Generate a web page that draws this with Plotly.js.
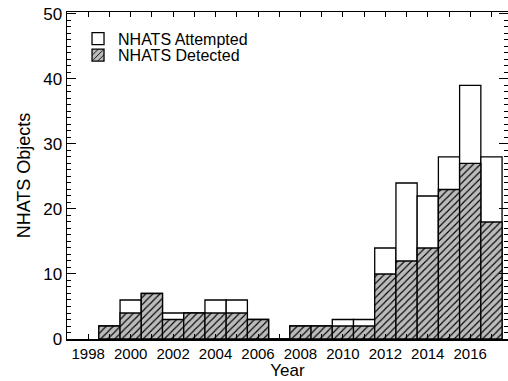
<!DOCTYPE html>
<html>
<head>
<meta charset="utf-8">
<script src="https://cdn.plot.ly/plotly-3.0.1.min.js"></script>
<style>html,body{margin:0;padding:0;background:#fff;}#chart{width:508px;height:381px;}</style>
</head>
<body>
<div id="chart"></div>
<script>
const years = [1999,2000,2001,2002,2003,2004,2005,2006,2007,2008,2009,2010,2011,2012,2013,2014,2015,2016,2017];
const attempted = [2,6,7,4,4,6,6,3,0,2,2,3,3,14,24,22,28,39,28];
const detected  = [2,4,7,3,4,4,4,3,0,2,2,2,2,10,12,14,23,27,18];
const tickYears = [1998,1999,2000,2001,2002,2003,2004,2005,2006,2007,2008,2009,2010,2011,2012,2013,2014,2015,2016,2017];
const tickLabels = ['1998','','2000','','2002','','2004','','2006','','2008','','2010','','2012','','2014','','2016',''];

const FONT = 'Liberation Sans, Arial, Helvetica, sans-serif';

const traces = [
  {
    type: 'bar', x: years, y: attempted, name: 'NHATS Attempted', width: 1,
    marker: {color: '#ffffff', line: {color: '#000000', width: 1.3}},
    legend: 'legend'
  },
  {
    type: 'bar', x: years, y: detected, name: 'NHATS Detected', width: 1,
    marker: {color: '#bbbbbb', line: {color: '#000000', width: 1.3},
      pattern: {shape: '/', fgcolor: '#000000', bgcolor: '#bbbbbb', size: 5, solidity: 0.22}},
    legend: 'legend2'
  }
];

const layout = {
  width: 508, height: 381,
  margin: {l: 67, r: 0, t: 12, b: 42},
  paper_bgcolor: '#ffffff', plot_bgcolor: '#ffffff',
  barmode: 'overlay', bargap: 0,
  font: {family: FONT, color: '#000000'},
  showlegend: true,
  legend: {x: 0.025, y: 0.918, xanchor: 'left', yanchor: 'middle', bgcolor: 'rgba(0,0,0,0)',
    font: {size: 16, family: FONT}, itemclick: false},
  legend2: {x: 0.025, y: 0.868, xanchor: 'left', yanchor: 'middle', bgcolor: 'rgba(0,0,0,0)',
    font: {size: 16, family: FONT}, itemclick: false},
  xaxis: {
    range: [1997, 2017.78], tickvals: tickYears, ticktext: tickLabels,
    ticks: 'inside', ticklen: 5, tickwidth: 1, tickcolor: '#000',
    showline: true, linecolor: '#000', linewidth: 1.5, mirror: 'ticks',
    showgrid: false, zeroline: false,
    tickfont: {size: 15, family: FONT},
    title: {text: 'Year', font: {size: 17, family: FONT}, standoff: 3}
  },
  yaxis: {
    range: [0, 50.3], tickvals: [0,10,20,30,40,50],
    ticks: 'inside', ticklen: 9, tickwidth: 1, tickcolor: '#000',
    minor: {dtick: 1, tick0: 0, ticks: 'inside', ticklen: 4, tickwidth: 1, tickcolor: '#000', showgrid: false},
    showline: true, linecolor: '#000', linewidth: 1.5, mirror: 'ticks',
    showgrid: false, zeroline: false,
    tickfont: {size: 17, family: FONT},
    title: {text: 'NHATS Objects', font: {size: 18, family: FONT}, standoff: 8}
  }
};

Plotly.newPlot('chart', traces, layout, {displayModeBar: false, staticPlot: true});
</script>
</body>
</html>
